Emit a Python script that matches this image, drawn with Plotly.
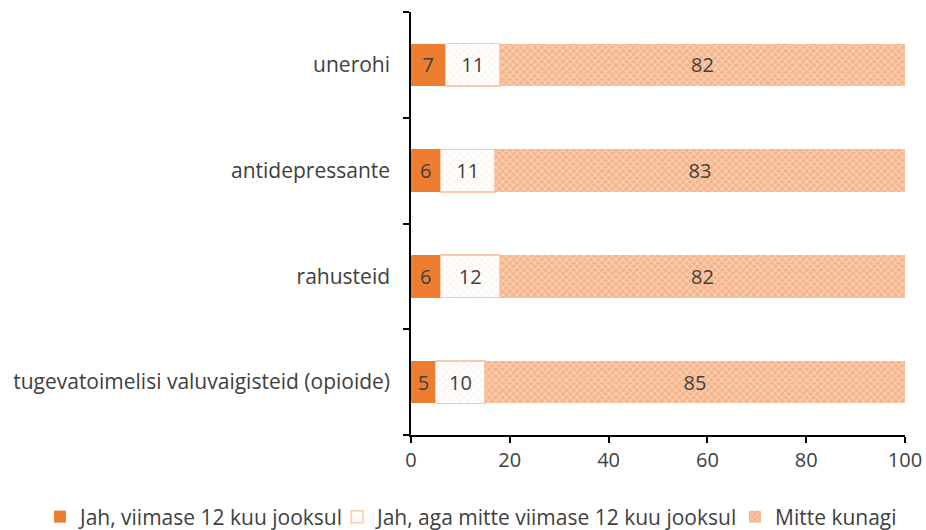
import plotly.graph_objects as go

categories = ["tugevatoimelisi valuvaigisteid (opioide)", "rahusteid", "antidepressante", "unerohi"]
s1_name = "Jah, viimase 12 kuu jooksul"
s2_name = "Jah, aga mitte viimase 12 kuu jooksul"
s3_name = "Mitte kunagi"
s1 = [5, 6, 6, 7]
s2 = [10, 12, 11, 11]
s3 = [85, 82, 83, 82]

FONT = "Open Sans"
FS = 20
FS_LBL = 21
GREY = "#404040"
txtfont = dict(family=FONT, size=FS, color=GREY)

fig = go.Figure()
fig.add_trace(go.Bar(
    y=categories, x=s1, name=s1_name, orientation="h", legend="legend", showlegend=True,
    marker=dict(color="#ED7D31", line=dict(width=0)),
    text=s1, textposition="inside", insidetextanchor="middle",
    textfont=txtfont,
))
fig.add_trace(go.Bar(
    y=categories, x=s2, name=s2_name, orientation="h", legend="legend2", showlegend=True,
    marker=dict(color="white", line=dict(color="#F8CBAD", width=1.5),
                pattern=dict(shape="x", fgcolor="#FADCC8", bgcolor="white", size=5, solidity=0.3)),
    text=s2, textposition="inside", insidetextanchor="middle",
    textfont=txtfont,
))
fig.add_trace(go.Bar(
    y=categories, x=s3, name=s3_name, orientation="h", legend="legend3", showlegend=True,
    marker=dict(color="#F5B58A", line=dict(width=0),
                pattern=dict(shape="x", fgcolor="#FFF6EF", bgcolor="#F5B58A", size=5, solidity=0.35)),
    text=s3, textposition="inside", insidetextanchor="middle",
    textfont=txtfont,
))

def leg(x):
    return dict(orientation="h", x=x, xanchor="left", xref="container",
                y=1 - 517 / 530, yanchor="middle", yref="container",
                font=dict(family=FONT, size=FS_LBL, color=GREY),
                itemwidth=30, bgcolor="rgba(0,0,0,0)", borderwidth=0, visible=True)

fig.update_layout(
    width=926, height=530,
    showlegend=True,
    barmode="stack", bargap=0.6,
    plot_bgcolor="white", paper_bgcolor="white",
    margin=dict(l=411, r=21, t=12, b=95, autoexpand=False),
    font=dict(family=FONT, size=FS, color=GREY),
    uniformtext=dict(minsize=10, mode="show"),
    legend=leg(40 / 926),
    legend2=leg(337 / 926),
    legend3=leg(735 / 926),
    xaxis=dict(range=[0, 100], dtick=20, showgrid=False, zeroline=False,
               showline=True, linecolor="black", linewidth=1.5,
               ticks="outside", ticklen=6, tickcolor="black", tickwidth=1.5,
               tickfont=dict(family=FONT, size=FS, color=GREY)),
    yaxis=dict(showgrid=False, showline=True, linecolor="black", linewidth=1.5,
               ticks="outside", ticklen=6, tickcolor="black", tickwidth=1.5,
               tickson="boundaries", ticklabelstandoff=15,
               tickfont=dict(family=FONT, size=FS_LBL, color=GREY)),
)

fig.write_html("out.html", config={"displayModeBar": False},
               post_script="document.body.style.margin='0';")
